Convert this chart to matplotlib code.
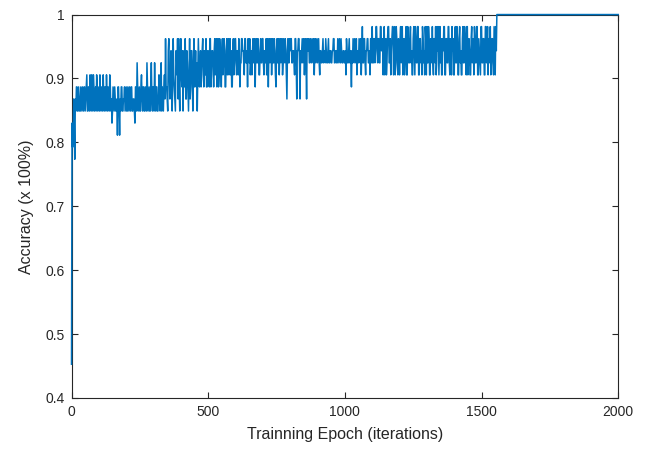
import numpy as np
import matplotlib
matplotlib.use("Agg")
import matplotlib.pyplot as plt

# Accuracy on a 53-sample batch, read every 2 iterations.
# Each character = number of misclassified samples (base 36: a=10, b=11, c=12, t=29).
# "even" strings hold iterations 0, 4, 8, ... ; "odd" strings hold iterations 2, 6, 10, ...
batch_size = 53
iteration_step = 4
even_0000 = "tb7c8" "68787" "68675" "86587" "58658"
odd_0000 = "9a976" "86868" "76868" "68758" "67867"
even_0100 = "65875" "86587" "58968" "78a6a" "86878"
odd_0100 = "87687" "68768" "67876" "87687" "68767"
even_0200 = "68768" "68796" "48685" "86874" "86848"
odd_0200 = "86876" "87868" "67867" "68686" "78676"
even_0300 = "64868" "58468" "52682" "73826" "83228"
odd_0300 = "87687" "67876" "76735" "64657" "35764"
even_0400 = "26832" "74826" "38256" "82635" "26426"
odd_0400 = "53467" "36573" "64634" "54563" "43563"
even_0500 = "36253" "62462" "53624" "36245" "23624"
odd_0500 = "52634" "35236" "24352" "63524" "56352"
even_0600 = "25326" "42352" "46324" "52362" "43524"
odd_0600 = "43534" "23424" "32453" "34234" "25342"
even_0700 = "25324" "62352" "43624" "52352" "43724"
odd_0700 = "43452" "34234" "25342" "34243" "25342"
even_0800 = "32435" "27327" "42352" "73243" "24523"
odd_0800 = "24342" "43243" "34234" "23424" "32342"
even_0900 = "42534" "23434" "24343" "24343" "24343"
odd_0900 = "34343" "43243" "43432" "43424" "32434"
even_1000 = "45342" "36432" "45324" "51425" "32452"
odd_1000 = "32434" "43243" "23432" "34243" "24324"
even_1100 = "14231" "42413" "51352" "14521" "35142"
odd_1100 = "42413" "24132" "25241" "42315" "14253"
even_1200 = "51352" "41524" "13515" "24152" "31452"
odd_1200 = "24135" "25142" "45231" "41524" "52315"
even_1300 = "14253" "15214" "35125" "31524" "15312"
odd_1300 = "41524" "42451" "13452" "15241" "42535"
even_1400 = "51425" "13514" "25143" "51252" "41535"
odd_1400 = "24152" "45241" "41525" "24314" "15241"
even_1500 = "14251" "35214" "2531"
odd_1500 = "42514" "12452" "4153"

# After convergence the accuracy stays at 100 %
plateau_iters = [1556, 2000]
plateau_acc = [1.0, 1.0]

x_ticks = [0, 500, 1000, 1500, 2000]
y_ticks = [0.4, 0.5, 0.6, 0.7, 0.8, 0.9, 1.0]
y_tick_labels = ["0.4", "0.5", "0.6", "0.7", "0.8", "0.9", "1"]
x_label = "Trainning Epoch (iterations)"
y_label = "Accuracy (x 100%)"

even = "".join([even_0000, even_0100, even_0200, even_0300, even_0400, even_0500,
                even_0600, even_0700, even_0800, even_0900, even_1000, even_1100,
                even_1200, even_1300, even_1400, even_1500])
odd = "".join([odd_0000, odd_0100, odd_0200, odd_0300, odd_0400, odd_0500,
               odd_0600, odd_0700, odd_0800, odd_0900, odd_1000, odd_1100,
               odd_1200, odd_1300, odd_1400, odd_1500])
n = min(len(even), len(odd))
miss = np.empty(2 * n, dtype=int)
miss[0::2] = [int(c, 36) for c in even[:n]]
miss[1::2] = [int(c, 36) for c in odd[:n]]
acc = (batch_size - miss) / batch_size
iters = np.empty(2 * n)
iters[0::2] = np.arange(n) * iteration_step
iters[1::2] = np.arange(n) * iteration_step + iteration_step // 2

iters_all = np.concatenate([iters, plateau_iters])
acc_all = np.concatenate([acc, plateau_acc])

plt.rcParams['font.family'] = ['Liberation Sans', 'DejaVu Sans']

fig = plt.figure(figsize=(6.46, 4.55), dpi=100)
ax = fig.add_axes([0.1107, 0.1253, 0.957 - 0.1107, 0.968 - 0.1253])
ax.plot(iters_all, acc_all, color='#0072BD', lw=1.1, zorder=3, clip_on=False)

ax.set_xlim(0, 2000)
ax.set_ylim(0.4, 1.0)
ax.set_xticks(x_ticks)
ax.set_xticklabels([str(t) for t in x_ticks])
ax.set_yticks(y_ticks)
ax.set_yticklabels(y_tick_labels)
ax.tick_params(direction='in', top=True, right=True, length=4, width=0.8,
               colors='#262626', labelsize=10, pad=5)
for s in ax.spines.values():
    s.set_linewidth(0.8)
    s.set_color('#262626')
ax.set_xlabel(x_label, fontsize=11.5, color='#262626', labelpad=6)
ax.set_ylabel(y_label, fontsize=11.5, color='#262626', labelpad=8)

fig.savefig("out.png", dpi=100)
